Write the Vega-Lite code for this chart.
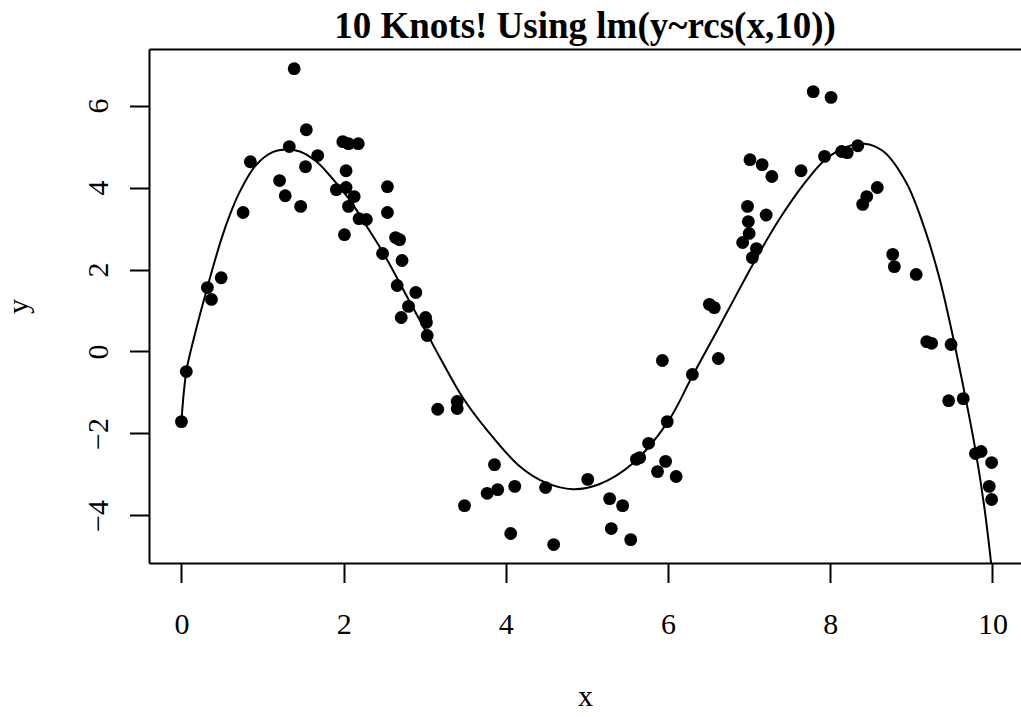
{
  "$schema": "https://vega.github.io/schema/vega-lite/v6.json",
  "width": 872,
  "height": 514,
  "autosize": {"type": "none"},
  "padding": {"left": 149, "top": 49, "right": 0, "bottom": 154},
  "background": "white",
  "title": {
    "text": "10 Knots! Using lm(y~rcs(x,10))",
    "font": "Liberation Serif",
    "fontSize": 37,
    "fontWeight": "bold",
    "color": "black",
    "anchor": "middle",
    "offset": 3
  },
  "config": {
    "view": {"stroke": null},
    "axis": {
      "grid": false,
      "domainColor": "black",
      "domainWidth": 2,
      "tickColor": "black",
      "tickWidth": 2,
      "tickSize": 19.5,
      "labelFont": "Liberation Serif",
      "labelFontSize": 30,
      "labelColor": "black",
      "titleFont": "Liberation Serif",
      "titleFontSize": 30,
      "titleFontWeight": "normal",
      "titleColor": "black"
    }
  },
  "datasets": {
    "pts": [
      {"x": 0.00, "y": -1.71}, {"x": 0.06, "y": -0.49}, {"x": 0.32, "y": 1.56}, {"x": 0.37, "y": 1.27},
      {"x": 0.49, "y": 1.80}, {"x": 0.76, "y": 3.39}, {"x": 0.85, "y": 4.63}, {"x": 1.21, "y": 4.17},
      {"x": 1.28, "y": 3.80}, {"x": 1.33, "y": 5.00}, {"x": 1.39, "y": 6.90}, {"x": 1.47, "y": 3.54},
      {"x": 1.53, "y": 4.51}, {"x": 1.54, "y": 5.41}, {"x": 1.68, "y": 4.78}, {"x": 1.91, "y": 3.95},
      {"x": 1.99, "y": 5.12}, {"x": 2.03, "y": 4.00}, {"x": 2.03, "y": 4.41}, {"x": 2.01, "y": 2.85},
      {"x": 2.06, "y": 5.07}, {"x": 2.06, "y": 3.54}, {"x": 2.13, "y": 3.78}, {"x": 2.18, "y": 5.07},
      {"x": 2.19, "y": 3.24}, {"x": 2.28, "y": 3.22}, {"x": 2.54, "y": 4.02}, {"x": 2.54, "y": 3.39},
      {"x": 2.48, "y": 2.39}, {"x": 2.64, "y": 2.78}, {"x": 2.69, "y": 2.73}, {"x": 2.72, "y": 2.22},
      {"x": 2.66, "y": 1.61}, {"x": 2.89, "y": 1.44}, {"x": 2.80, "y": 1.10}, {"x": 2.71, "y": 0.83},
      {"x": 3.01, "y": 0.83}, {"x": 3.02, "y": 0.71}, {"x": 3.03, "y": 0.39}, {"x": 3.16, "y": -1.41},
      {"x": 3.40, "y": -1.22}, {"x": 3.40, "y": -1.39}, {"x": 3.49, "y": -3.76}, {"x": 3.86, "y": -2.76},
      {"x": 3.77, "y": -3.46}, {"x": 3.90, "y": -3.37}, {"x": 4.11, "y": -3.29}, {"x": 4.06, "y": -4.44},
      {"x": 4.49, "y": -3.32}, {"x": 4.59, "y": -4.71}, {"x": 5.01, "y": -3.12}, {"x": 5.28, "y": -3.59},
      {"x": 5.44, "y": -3.76}, {"x": 5.30, "y": -4.32}, {"x": 5.54, "y": -4.59}, {"x": 5.61, "y": -2.63},
      {"x": 5.65, "y": -2.59}, {"x": 5.76, "y": -2.24}, {"x": 5.87, "y": -2.93}, {"x": 5.97, "y": -2.68},
      {"x": 5.99, "y": -1.71}, {"x": 6.10, "y": -3.05}, {"x": 5.93, "y": -0.22}, {"x": 6.30, "y": -0.56},
      {"x": 6.51, "y": 1.15}, {"x": 6.57, "y": 1.07}, {"x": 6.62, "y": -0.17}, {"x": 6.92, "y": 2.66},
      {"x": 6.99, "y": 3.17}, {"x": 7.00, "y": 2.88}, {"x": 6.98, "y": 3.54}, {"x": 7.01, "y": 4.68},
      {"x": 7.04, "y": 2.29}, {"x": 7.09, "y": 2.51}, {"x": 7.16, "y": 4.56}, {"x": 7.21, "y": 3.33},
      {"x": 7.28, "y": 4.27}, {"x": 7.64, "y": 4.41}, {"x": 7.79, "y": 6.34}, {"x": 7.93, "y": 4.76},
      {"x": 8.01, "y": 6.20}, {"x": 8.14, "y": 4.88}, {"x": 8.21, "y": 4.85}, {"x": 8.34, "y": 5.02},
      {"x": 8.40, "y": 3.59}, {"x": 8.45, "y": 3.78}, {"x": 8.58, "y": 4.00}, {"x": 8.77, "y": 2.37},
      {"x": 8.79, "y": 2.07}, {"x": 9.06, "y": 1.88}, {"x": 9.19, "y": 0.24}, {"x": 9.25, "y": 0.20},
      {"x": 9.49, "y": 0.17}, {"x": 9.46, "y": -1.20}, {"x": 9.64, "y": -1.15}, {"x": 9.79, "y": -2.49},
      {"x": 9.86, "y": -2.44}, {"x": 9.99, "y": -2.71}, {"x": 9.96, "y": -3.29}, {"x": 9.99, "y": -3.61}
    ],
    "fit": [
      {"x": 0.00, "y": -1.70}, {"x": 0.06, "y": -0.49}, {"x": 0.15, "y": 0.30}, {"x": 0.32, "y": 1.57},
      {"x": 0.49, "y": 2.73}, {"x": 0.60, "y": 3.35}, {"x": 0.72, "y": 3.90}, {"x": 0.92, "y": 4.55},
      {"x": 1.13, "y": 4.87}, {"x": 1.29, "y": 4.93}, {"x": 1.46, "y": 4.88}, {"x": 1.66, "y": 4.64},
      {"x": 1.87, "y": 4.20}, {"x": 2.07, "y": 3.71}, {"x": 2.28, "y": 3.07}, {"x": 2.49, "y": 2.40},
      {"x": 2.77, "y": 1.38}, {"x": 3.04, "y": 0.39}, {"x": 3.18, "y": -0.12}, {"x": 3.47, "y": -1.13},
      {"x": 3.76, "y": -1.90}, {"x": 4.17, "y": -2.80}, {"x": 4.49, "y": -3.20}, {"x": 4.83, "y": -3.36},
      {"x": 5.15, "y": -3.24}, {"x": 5.56, "y": -2.74}, {"x": 6.00, "y": -1.71}, {"x": 6.30, "y": -0.60},
      {"x": 6.63, "y": 0.60}, {"x": 6.76, "y": 1.08}, {"x": 7.09, "y": 2.28}, {"x": 7.37, "y": 3.22},
      {"x": 7.70, "y": 4.15}, {"x": 7.95, "y": 4.70}, {"x": 8.20, "y": 4.99}, {"x": 8.42, "y": 5.07},
      {"x": 8.65, "y": 4.89}, {"x": 8.94, "y": 4.11}, {"x": 9.18, "y": 2.90}, {"x": 9.35, "y": 1.76},
      {"x": 9.47, "y": 0.75}, {"x": 9.64, "y": -0.85}, {"x": 9.79, "y": -2.40}, {"x": 9.90, "y": -3.80},
      {"x": 10.00, "y": -5.45}
    ]
  },
  "layer": [
    {
      "data": {"name": "pts"},
      "mark": {"type": "circle", "size": 165, "color": "black", "opacity": 1},
      "encoding": {
        "x": {
          "field": "x", "type": "quantitative",
          "scale": {"domain": [-0.4, 10.352], "nice": false, "zero": false},
          "axis": {"orient": "bottom", "values": [0, 2, 4, 6, 8, 10], "labelPadding": 27, "title": "x", "titlePadding": 42, "labelFlush": false}
        },
        "y": {
          "field": "y", "type": "quantitative",
          "scale": {"domain": [-5.16, 7.38], "nice": false, "zero": false},
          "axis": {"orient": "left", "values": [-4, -2, 0, 2, 4, 6], "labelAngle": -90, "labelAlign": "center", "labelBaseline": "bottom", "labelPadding": 16, "title": "y", "titlePadding": 50, "labelFlush": false}
        }
      }
    },
    {
      "data": {"name": "fit"},
      "mark": {"type": "line", "color": "black", "strokeWidth": 2, "clip": true, "interpolate": "catmull-rom"},
      "encoding": {
        "x": {
          "field": "x", "type": "quantitative",
          "axis": {"orient": "top", "labels": false, "ticks": false, "title": null, "domain": true}
        },
        "y": {"field": "y", "type": "quantitative"}
      }
    }
  ],
  "resolve": {"axis": {"x": "independent"}}
}
